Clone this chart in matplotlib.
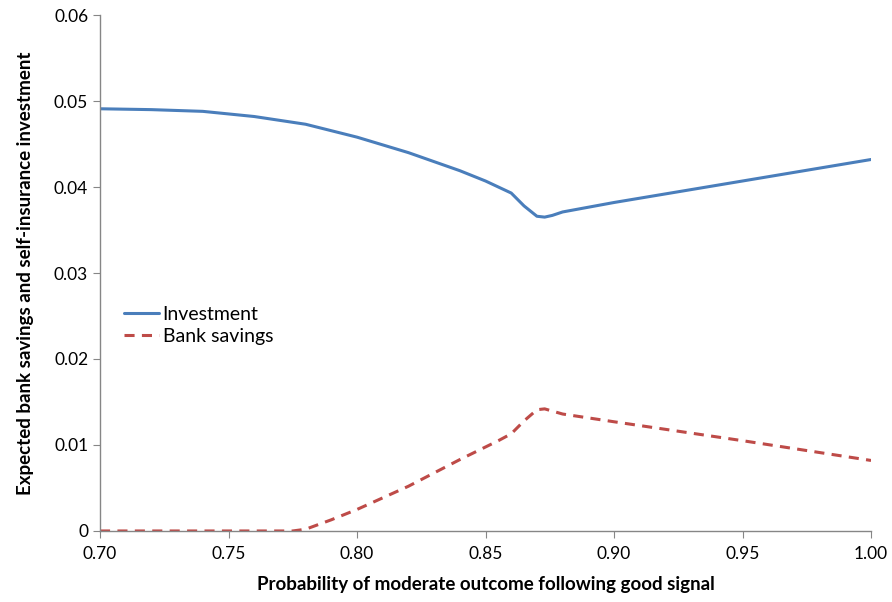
import matplotlib
matplotlib.use("Agg")
from matplotlib import pyplot as plt

plt.rcParams['font.family'] = ['Lato', 'DejaVu Sans']

# values
inv_x = [0.70, 0.72, 0.74, 0.76, 0.78, 0.80, 0.82, 0.84, 0.85, 0.86,
         0.865, 0.87, 0.873, 0.876, 0.88, 0.90, 0.95, 1.00]
investment = [0.0491, 0.0490, 0.0488, 0.0482, 0.0473, 0.0458, 0.0440, 0.0419,
              0.0407, 0.0393, 0.0378, 0.0366, 0.0365, 0.0367, 0.0371, 0.0382,
              0.0407, 0.0432]

bank_x = [0.70, 0.72, 0.74, 0.76, 0.775, 0.78, 0.79, 0.80, 0.82, 0.84,
          0.855, 0.86, 0.865, 0.87, 0.873, 0.88, 0.90, 0.95, 1.00]
bank_savings = [0.0, 0.0, 0.0, 0.0, 0.0, 0.0002, 0.0013, 0.0025, 0.0052, 0.0083,
                0.0105, 0.0113, 0.0128, 0.0141, 0.0142, 0.0136, 0.0127, 0.0105,
                0.0082]

x_ticks = [0.70, 0.75, 0.80, 0.85, 0.90, 0.95, 1.00]
y_ticks = [0, 0.01, 0.02, 0.03, 0.04, 0.05, 0.06]
y_labels = ['0', '0.01', '0.02', '0.03', '0.04', '0.05', '0.06']

fig = plt.figure(figsize=(8.92, 6.02), dpi=100)
ax = fig.add_axes([0.1121, 0.118, 0.8644, 0.857])

ax.plot(inv_x, investment, color='#4A7EBB', lw=2.2, label='Investment',
        solid_capstyle='round')
ax.plot(bank_x, bank_savings, color='#BE4B48', lw=2.2, dashes=(3.3, 2.4),
        label='Bank savings')

ax.set_xlim(0.70, 1.00)
ax.set_ylim(0, 0.06)
ax.set_xticks(x_ticks)
ax.set_xticklabels(['%.2f' % t for t in x_ticks])
ax.set_yticks(y_ticks)
ax.set_yticklabels(y_labels)

for s in ['top', 'right']:
    ax.spines[s].set_visible(False)
for s in ['left', 'bottom']:
    ax.spines[s].set_color('#868686')
    ax.spines[s].set_linewidth(1.0)
ax.tick_params(direction='out', length=5, color='#868686', labelsize=12.5,
               labelcolor='black')
ax.tick_params(axis='x', pad=6)

ax.set_xlabel('Probability of moderate outcome following good signal',
              fontsize=13.5, fontweight='bold', labelpad=10)
ax.set_ylabel('Expected bank savings and self-insurance investment',
              fontsize=13.5, fontweight='bold', labelpad=14)

ax.legend(loc='upper left', bbox_to_anchor=(0.008, 0.47), frameon=False,
          fontsize=14, handlelength=1.8, handletextpad=0.2, labelspacing=0.25)

fig.savefig('out.png', dpi=100)
